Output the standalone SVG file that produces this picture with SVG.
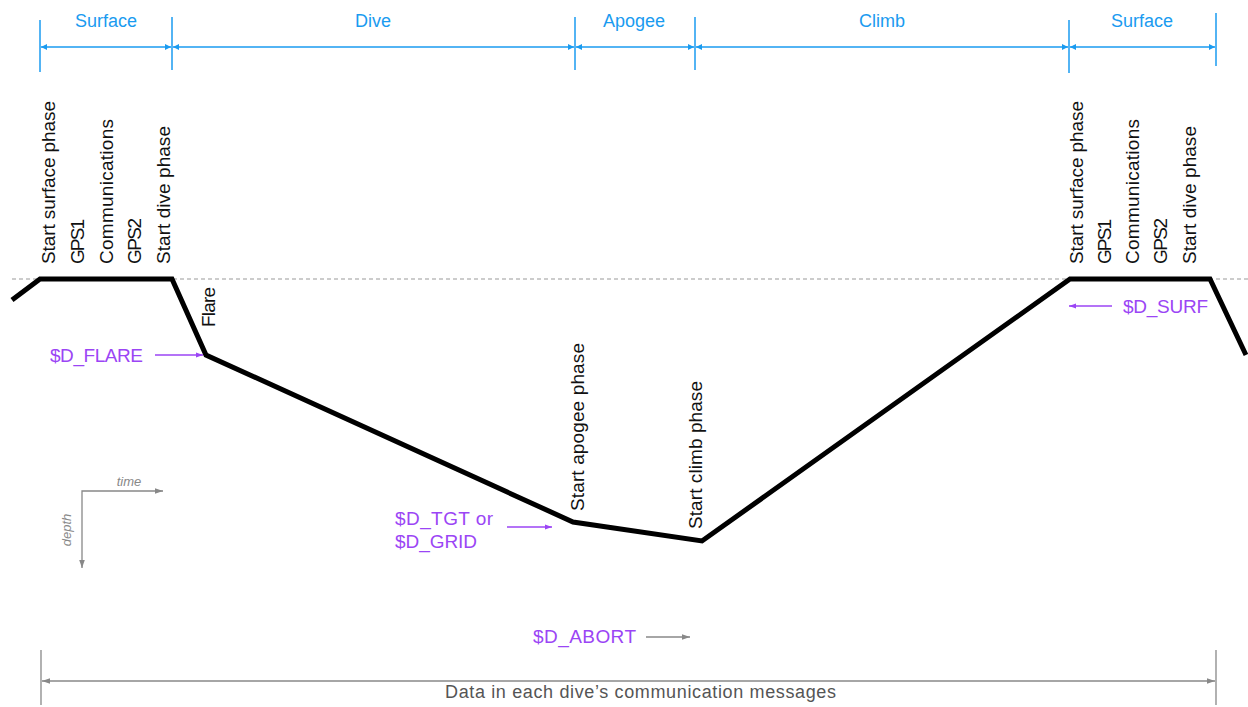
<svg xmlns="http://www.w3.org/2000/svg" width="1248" height="707" viewBox="0 0 1248 707">
<defs>
<style>
text{font-family:"Liberation Sans",Arial,sans-serif}
.ph{fill:#1a9bf0;font-size:18px;text-anchor:middle}
.bl{stroke:#1a9bf0;stroke-width:1.5;fill:none}
.vt{fill:#111;font-size:19px}
.pu{fill:#9b45f5;font-size:19px}
.gr{stroke:#888;stroke-width:1.3;fill:none}
</style>
<marker id="ab" viewBox="0 0 10 10" refX="10" refY="5" markerWidth="6" markerHeight="6" orient="auto-start-reverse" markerUnits="userSpaceOnUse"><path d="M0,0L10,5L0,10z" fill="#1a9bf0"/></marker>
<marker id="ap" viewBox="0 0 10 10" refX="10" refY="5" markerWidth="7" markerHeight="7" orient="auto-start-reverse" markerUnits="userSpaceOnUse"><path d="M0,1.5L10,5L0,8.5z" fill="#9b45f5"/></marker>
<marker id="ag" viewBox="0 0 10 10" refX="10" refY="5" markerWidth="8" markerHeight="8" orient="auto-start-reverse" markerUnits="userSpaceOnUse"><path d="M0,1.5L10,5L0,8.5z" fill="#888"/></marker>
</defs>
<rect width="1248" height="707" fill="#fff"/>
<g id="phases">
<line class="bl" x1="40" y1="20" x2="40" y2="72"/>
<line class="bl" x1="172" y1="17" x2="172" y2="70"/>
<line class="bl" x1="575" y1="17" x2="575" y2="70"/>
<line class="bl" x1="695" y1="17" x2="695" y2="70"/>
<line class="bl" x1="1069" y1="20" x2="1069" y2="73"/>
<line class="bl" x1="1216" y1="13" x2="1216" y2="66"/>
<line class="bl" x1="41" y1="47" x2="171" y2="47" marker-start="url(#ab)" marker-end="url(#ab)"/>
<line class="bl" x1="173" y1="47" x2="574" y2="47" marker-start="url(#ab)" marker-end="url(#ab)"/>
<line class="bl" x1="576" y1="47" x2="694" y2="47" marker-start="url(#ab)" marker-end="url(#ab)"/>
<line class="bl" x1="696" y1="47" x2="1068" y2="47" marker-start="url(#ab)" marker-end="url(#ab)"/>
<line class="bl" x1="1070" y1="47" x2="1215" y2="47" marker-start="url(#ab)" marker-end="url(#ab)"/>
<text class="ph" x="106" y="27">Surface</text>
<text class="ph" x="373" y="27">Dive</text>
<text class="ph" x="634" y="27">Apogee</text>
<text class="ph" x="882" y="27">Climb</text>
<text class="ph" x="1142" y="27">Surface</text>
</g>
<g id="surface-line">
<line x1="12" y1="279" x2="1248" y2="279" stroke="#999" stroke-width="1" stroke-dasharray="4,3"/>
</g>
<g id="profile">
<polyline points="12,300 40,279 172,279 206,355 573,522 702,541 1070,279 1210,279 1246,355" fill="none" stroke="#000" stroke-width="5" stroke-linejoin="miter"/>
</g>
<g id="labels-left">
<text class="vt" transform="translate(55,264) rotate(-90)" textLength="163">Start surface phase</text>
<text class="vt" transform="translate(84,264) rotate(-90)" textLength="45">GPS1</text>
<text class="vt" transform="translate(113,264) rotate(-90)" textLength="145">Communications</text>
<text class="vt" transform="translate(141,264) rotate(-90)" textLength="46">GPS2</text>
<text class="vt" transform="translate(170,264) rotate(-90)" textLength="138">Start dive phase</text>
<text class="vt" transform="translate(215,327) rotate(-90)" textLength="40">Flare</text>
</g>
<g id="labels-right">
<text class="vt" transform="translate(1083,264) rotate(-90)" textLength="163">Start surface phase</text>
<text class="vt" transform="translate(1111,264) rotate(-90)" textLength="45">GPS1</text>
<text class="vt" transform="translate(1139,264) rotate(-90)" textLength="145">Communications</text>
<text class="vt" transform="translate(1167,264) rotate(-90)" textLength="46">GPS2</text>
<text class="vt" transform="translate(1196,264) rotate(-90)" textLength="138">Start dive phase</text>
</g>
<g id="labels-bottom">
<text class="vt" transform="translate(584,511) rotate(-90)" textLength="168">Start apogee phase</text>
<text class="vt" transform="translate(702,529) rotate(-90)" textLength="148">Start climb phase</text>
</g>
<g id="params">
<text class="pu" x="50" y="362" textLength="93">$D_FLARE</text>
<text class="pu" x="1123" y="313" textLength="85">$D_SURF</text>
<text class="pu" x="395" y="525" textLength="98">$D_TGT or</text>
<text class="pu" x="395" y="548" textLength="82">$D_GRID</text>
<text class="pu" x="533" y="643" textLength="103">$D_ABORT</text>
</g>
<g id="axes">
<polyline class="gr" points="163,491 82,491 82,568" marker-start="url(#ag)" marker-end="url(#ag)"/>
<text x="129" y="486" fill="#888" font-size="13" font-style="italic" text-anchor="middle">time</text>
<text transform="translate(71,530) rotate(-90)" fill="#888" font-size="13" font-style="italic" text-anchor="middle">depth</text>
</g>
<g id="data-range">
<line class="gr" x1="41" y1="650" x2="41" y2="705"/>
<line class="gr" x1="1216" y1="650" x2="1216" y2="705"/>
<line class="gr" x1="42" y1="681" x2="1215" y2="681" marker-start="url(#ag)" marker-end="url(#ag)"/>
<text x="445" y="698" fill="#555" font-size="18" textLength="391">Data in each dive’s communication messages</text>
</g>
<g id="connectors">
<line x1="155" y1="355" x2="203" y2="355" stroke="#9b45f5" stroke-width="1.3" marker-end="url(#ap)"/>
<line x1="1112" y1="306" x2="1069" y2="306" stroke="#9b45f5" stroke-width="1.3" marker-end="url(#ap)"/>
<line x1="507" y1="527" x2="552" y2="527" stroke="#9b45f5" stroke-width="1.3" marker-end="url(#ap)"/>
<line x1="646" y1="637" x2="690" y2="637" stroke="#888" stroke-width="1.3" marker-end="url(#ag)"/>
</g>
</svg>
